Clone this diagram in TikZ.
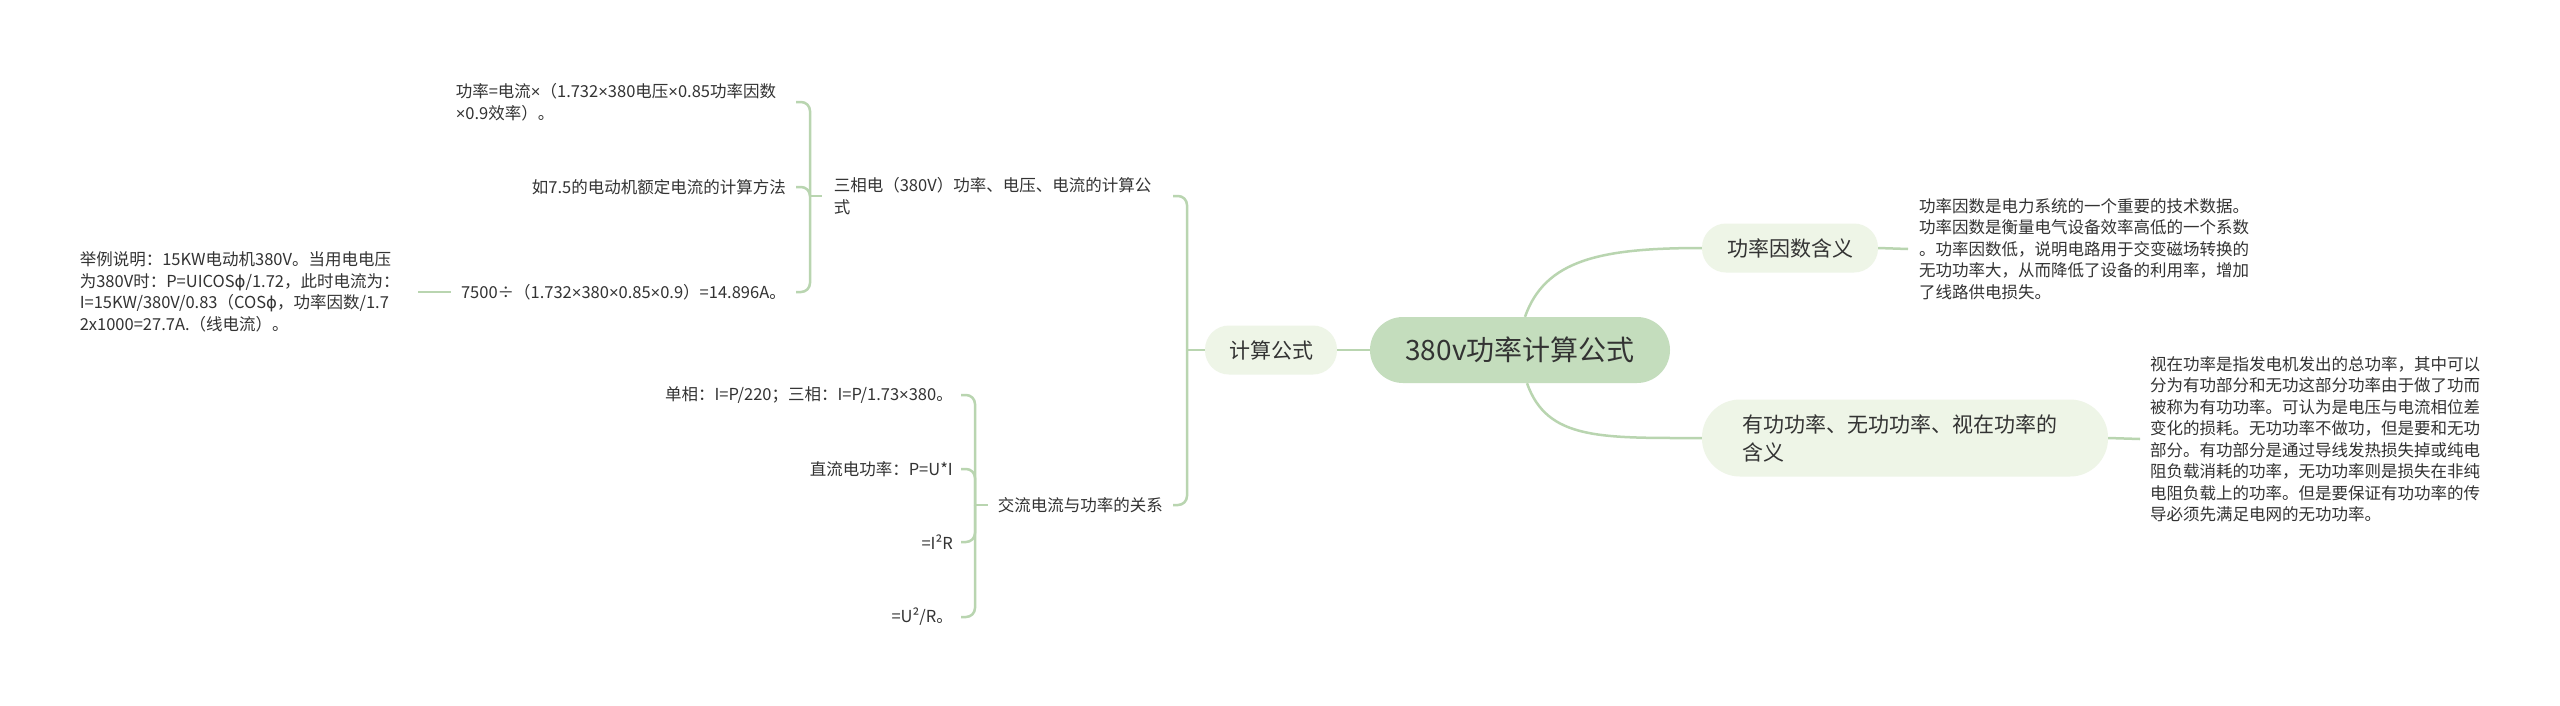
\documentclass[tikz,border=0pt]{standalone}
\usepackage{fontspec}
\setmainfont{Noto Sans CJK SC}
\newfontfamily\dejavu{DejaVu Sans}
\newfontfamily\libsans{Liberation Sans}
\definecolor{rootfill}{HTML}{C4DDBD}
\definecolor{lvfill}{HTML}{EEF5E7}
\definecolor{linec}{HTML}{B9D5B0}
\definecolor{txt}{HTML}{333333}
\newcommand{\ph}{{\dejavu ϕ}}
\newcommand{\tm}{{\libsans ×}}
\begin{document}
\begin{tikzpicture}[x=1pt,y=-1pt,
  conn/.style={draw=linec,line width=2.5pt},
  bracec/.style={conn,rounded corners=9pt},
  rootnode/.style={fill=rootfill,rounded corners=33pt,minimum width=300pt,minimum height=66pt,font=\fontsize{28}{34}\selectfont,text=txt,inner sep=0pt},
  lvnode/.style={fill=lvfill,rounded corners=24pt,minimum height=49pt,font=\fontsize{21}{28}\selectfont,text=txt,inner sep=0pt},
  leaf/.style={font=\fontsize{16.5}{21.5}\selectfont,text=txt,align=left,inner xsep=10pt,inner ysep=2pt}]
\fill[white] (0,0) rectangle (2560,705);
\useasboundingbox (0,0) rectangle (2560,705);

% central and first level
\node[rootnode] (root) at (1520,350) {380v功率计算公式};
\node[lvnode,minimum width=132pt] (calc) at (1271,350) {计算公式};
\node[lvnode,minimum width=176pt] (glys) at (1790,248) {功率因数含义};
\node[lvnode,minimum width=406pt,minimum height=77pt,rounded corners=38pt,text width=326pt,align=left] (ygong) at (1905,438) {有功功率、无功功率、视在功率的\\含义};

% right leaves
\node[leaf,anchor=west,inner xsep=11pt] (glystext) at (1908,249) {功率因数是电力系统的一个重要的技术数据。\\功率因数是衡量电气设备效率高低的一个系数\\。功率因数低，说明电路用于交变磁场转换的\\无功功率大，从而降低了设备的利用率，增加\\了线路供电损失。};
\node[leaf,anchor=west] (ygongtext) at (2140,439) {视在功率是指发电机发出的总功率，其中可以\\分为有功部分和无功这部分功率由于做了功而\\被称为有功功率。可认为是电压与电流相位差\\变化的损耗。无功功率不做功，但是要和无功\\部分。有功部分是通过导线发热损失掉或纯电\\阻负载消耗的功率，无功功率则是损失在非纯\\电阻负载上的功率。但是要保证有功功率的传\\导必须先满足电网的无功功率。};

% left second level
\node[leaf,anchor=east,inner xsep=12pt,text width=327pt] (sanxiang) at (1173,196) {三相电（380V）功率、电压、电流的计算公\\式};
\node[leaf,anchor=east] (jiaoliu) at (1173,505) {交流电流与功率的关系};

% children of sanxiang
\node[leaf,anchor=east,text width=330pt] (gonglv) at (796,102) {功率=电流\tm（1.732\tm380电压\tm0.85功率因数\\\tm0.9效率）。};
\node[leaf,anchor=east] (ru75) at (796,187) {如7.5的电动机额定电流的计算方法};
\node[leaf,anchor=east] (n7500) at (796,292) {7500÷（1.732\tm380\tm0.85\tm0.9）=14.896A。};
\node[leaf,anchor=east,inner xsep=8pt,text width=330pt] (juli) at (418,292) {举例说明：15KW电动机380V。当用电电压\\为380V时：P=UICOS\ph/1.72，此时电流为：\\I=15KW/380V/0.83（COS\ph，功率因数/1.7\\2x1000=27.7A.（线电流）。};

% children of jiaoliu
\node[leaf,anchor=east,inner xsep=8pt] (danxiang) at (961,395) {单相：I=P/220；三相：I=P/1.73\tm380。};
\node[leaf,anchor=east,inner xsep=8pt] (zhiliu) at (961,469) {直流电功率：P=U*I};
\node[leaf,anchor=east,inner xsep=8pt] (itwor) at (961,542) {=I²R};
\node[leaf,anchor=east,inner xsep=8pt] (utwor) at (961,617) {=U²/R。};

% junction points of the braces
\coordinate (b0) at (1187,350);
\coordinate (b1) at (810,196);
\coordinate (b2) at (975,505);

% connectors from the root
\draw[conn] (root.west) -- (calc.east);
\draw[conn] ([xshift=5pt]root.north) .. controls (1545,260) and (1600,248) .. (glys.west);
\draw[conn] ([xshift=7pt]root.south) .. controls (1547,440) and (1600,438) .. (ygong.west);
\draw[conn] (glys.east) -- (glystext.west);
\draw[conn] (ygong.east) -- (ygongtext.west);

% left brace of calc
\draw[conn] (calc.west) -- (b0);
\draw[bracec] (b0) |- (sanxiang.east);
\draw[bracec] (b0) |- (jiaoliu.east);

% brace of sanxiang
\draw[conn] (sanxiang.west) -- (b1);
\draw[bracec] (b1) |- (gonglv.east);
\draw[bracec] (b1) |- (ru75.east);
\draw[bracec] (b1) |- (n7500.east);
\draw[conn] (n7500.west) -- (juli.east);

% brace of jiaoliu
\draw[conn] (jiaoliu.west) -- (b2);
\draw[bracec] (b2) |- (danxiang.east);
\draw[bracec] (b2) |- (zhiliu.east);
\draw[bracec] (b2) |- (itwor.east);
\draw[bracec] (b2) |- (utwor.east);
\end{tikzpicture}
\end{document}
